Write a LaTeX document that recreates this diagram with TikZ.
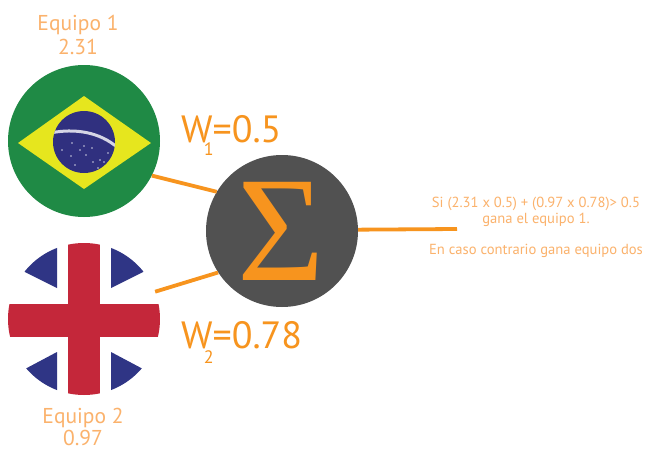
\documentclass[tikz,border=0pt]{standalone}
\usepackage{fontspec}
\setmainfont{PT Sans}
\newfontfamily\sigfont{Liberation Serif}
\definecolor{orng}{HTML}{F7941E}
\definecolor{lightorng}{HTML}{FBB26C}
\definecolor{brgreen}{HTML}{1F8A45}
\definecolor{bryellow}{HTML}{E6E61E}
\definecolor{brblue}{HTML}{30307F}
\definecolor{ukred}{HTML}{C4273A}
\definecolor{ukblue}{HTML}{2F3585}
\definecolor{sigbg}{HTML}{515151}
\newcommand{\wsub}[2]{W\llap{\raisebox{#2}{\fontsize{18}{18}\selectfont #1}\hspace{-1pt}}}
\tikzset{
  disc/.style={circle,inner sep=0pt,minimum size=152pt},
  wire/.style={draw=orng,line width=3.8pt},
  teamlabel/.style={text=lightorng,font=\fontsize{21.5}{21.5}\selectfont,inner sep=0pt},
  weight/.style={text=orng,font=\fontsize{38}{38}\selectfont,inner sep=0pt,anchor=base west},
  rule/.style={text=lightorng,font=\fontsize{14.6}{14.6}\selectfont,inner sep=0pt},
  star/.style={fill=white,opacity=.75}
}
\begin{document}
\begin{tikzpicture}[x=1pt,y=-1pt]
\useasboundingbox (0,0) rectangle (646,450);
\fill[white] (0,0) rectangle (646,450);
% Brazil
\node[disc,fill=brgreen] (bra) at (84,141) {};
\fill[bryellow] (18,143) -- (84,96) -- (151,143) -- (84,189) -- cycle;
\fill[brblue] (84,142) circle[radius=31pt];
\begin{scope}
\clip (84,142) circle[radius=31pt];
\draw[white,opacity=.8,line width=3pt] (50,133) .. controls (75,128) and (100,132) .. (118,148);
\end{scope}
\foreach \p in {(62,150),(72,143),(71,156),(80,150),(84,146),(86,155),(93,162),(100,160),(108,153),(104,162),(92,148),(75,165),(98,168)}
  \fill[star] \p circle[radius=.9pt];
% UK
\node[disc] (uk) at (84,319) {};
\begin{scope}
\clip (84,319) circle[radius=76pt];
\fill[ukblue] (57,288) -- (25,272) -- (10,250) -- (20,235) -- (57,235) -- cycle;
\fill[ukblue] (111,288) -- (143,272) -- (158,250) -- (148,235) -- (111,235) -- cycle;
\fill[ukblue] (57,352) -- (25,369) -- (10,390) -- (20,405) -- (57,405) -- cycle;
\fill[ukblue] (111,352) -- (143,369) -- (158,390) -- (148,405) -- (111,405) -- cycle;
\fill[ukred] (8,304) rectangle (160,337);
\fill[ukred] (68,243) rectangle (100,396);
\end{scope}
% Sigma
\node[disc,fill=sigbg] (sig) at (282,231) {};
\node[text=orng,inner sep=0pt,font=\sigfont\fontsize{150}{150}\selectfont] (sigma) at (281,231) {Σ};
\coordinate (out) at (457,229);
\draw[wire] (bra.-27) -- (sig.149);
\draw[wire] (uk.21) -- (sig.213);
\draw[wire] (sig.1) -- (out);
% Labels
\node[teamlabel] (e1) at (78,25) {Equipo 1};
\node[teamlabel] (v1) at (78,47) {2.31};
\node[teamlabel] (e2) at (83,418) {Equipo 2};
\node[teamlabel] (v2) at (83,438) {0.97};
\node[weight] (w1) at (181,142) {\wsub{1}{-13pt}=0.5};
\node[weight] (w2) at (181,348) {\wsub{2}{-15pt}=0.78};
\node[rule] (r1) at (536,204) {Si (2.31 x 0.5) + (0.97 x 0.78)> 0.5};
\node[rule] (r2) at (536,220) {gana el equipo 1.};
\node[rule] (r3) at (536,251) {En caso contrario gana equipo dos};
\end{tikzpicture}
\end{document}
